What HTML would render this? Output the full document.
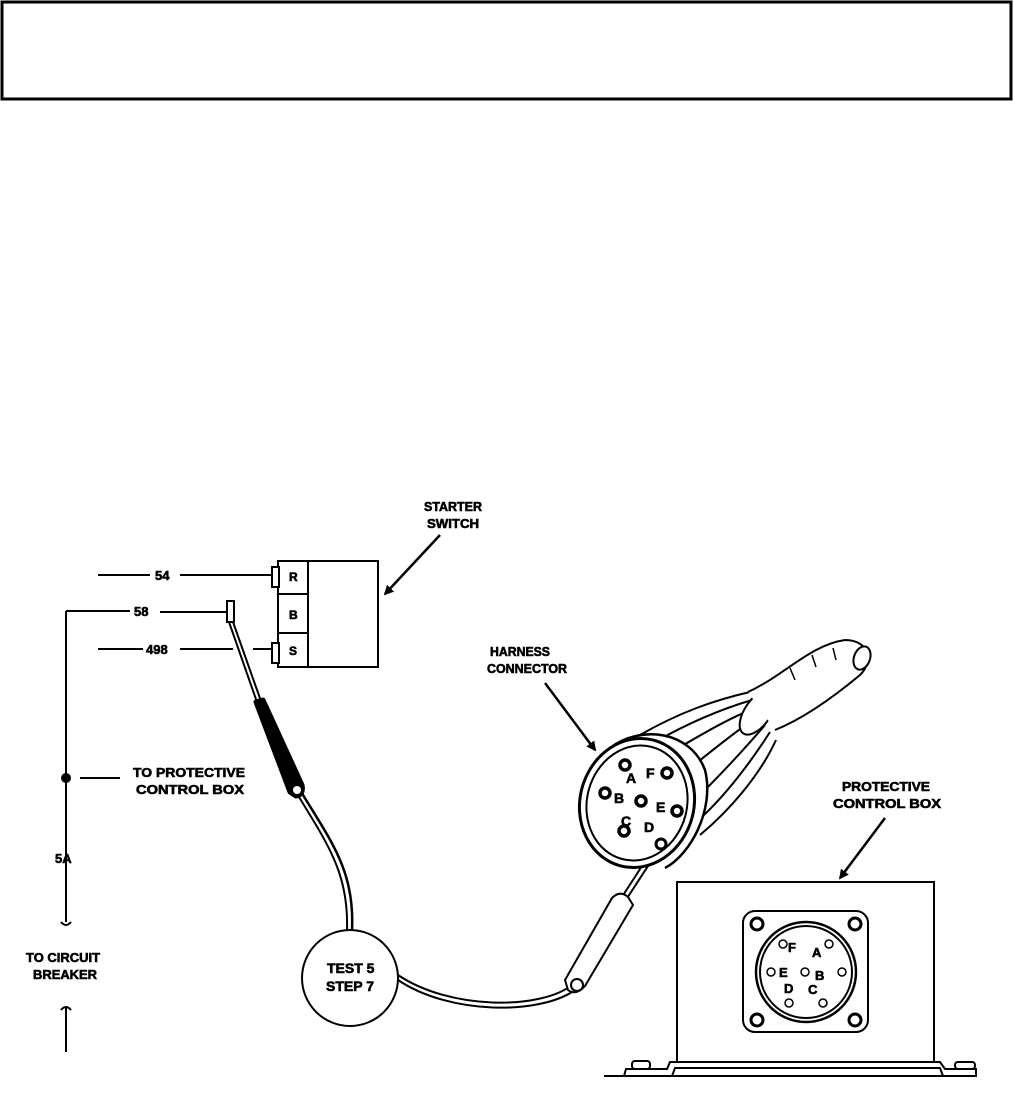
<!DOCTYPE html>
<html><head><style>
html,body{margin:0;padding:0;background:#fff;}
svg{display:block;}
text{font-family:"Liberation Sans",sans-serif;font-weight:bold;fill:#000;stroke:#000;stroke-width:0.6;}
</style></head><body>
<svg width="1014" height="1096" viewBox="0 0 1014 1096" xmlns="http://www.w3.org/2000/svg">
<defs><marker id="ah" markerWidth="10" markerHeight="10" refX="8" refY="5" orient="auto" markerUnits="userSpaceOnUse"><path d="M0,0 L10,5 L0,10 Z" fill="#000" transform="scale(1.4) translate(-3,-1.5)"/></marker></defs>
<rect x="2" y="2" width="1009" height="97" fill="none" stroke="#000" stroke-width="3"/>
<g stroke="#000" stroke-width="2" fill="none">
<rect x="278" y="561" width="100" height="106" fill="#fff"/>
<line x1="308" y1="561" x2="308" y2="667"/>
<line x1="278" y1="594" x2="308" y2="594"/>
<line x1="278" y1="633" x2="308" y2="633"/>
<rect x="272" y="567" width="7" height="20" fill="#fff"/>
<rect x="272" y="643" width="7" height="20" fill="#fff"/>
<line x1="98" y1="575" x2="150" y2="575"/><line x1="180" y1="575" x2="272" y2="575"/>
<line x1="66" y1="611" x2="130" y2="611"/><line x1="160" y1="612" x2="226" y2="612"/>
<rect x="227" y="601" width="7" height="21" fill="#fff"/>
<line x1="98" y1="649" x2="143" y2="649"/><line x1="180" y1="649" x2="233" y2="649"/><line x1="253" y1="649" x2="272" y2="649"/>
<line x1="66" y1="611" x2="66" y2="922"/>
<line x1="80" y1="778" x2="120" y2="778"/>
<path d="M61,922 q5,6 10,0"/>
<path d="M61,1010 q5,-6 10,0"/><line x1="66" y1="1008" x2="66" y2="1052"/>
<line x1="229" y1="622" x2="258" y2="705"/><line x1="233" y1="622" x2="262" y2="704"/>
<path d="M300,790 C330,840 355,870 352,930" stroke-width="2.5"/>
<path d="M296,792 C326,842 349,872 347,930" stroke-width="2"/>
<circle cx="350" cy="978" r="48" fill="#fff"/>
<path d="M398,975 C450,1010 540,1010 572,985" stroke-width="2"/>
<path d="M398,980 C450,1015 540,1015 575,990" stroke-width="2"/>
<line x1="618" y1="903" x2="657" y2="843"/><line x1="622" y1="906" x2="661" y2="846"/>
<path d="M565,980 L612,898 Q620,890 628,897 L633,905 L585,986 Q576,996 568,990 Z" fill="#fff"/>
<circle cx="577" cy="985" r="6" fill="#fff"/>
<!-- harness cable wires -->
<path d="M640,735 C680,712 715,700 750,692"/>
<path d="M655,742 C690,722 725,708 752,700"/>
<path d="M672,752 C705,732 735,715 756,708"/>
<path d="M688,770 C715,748 740,728 760,715"/>
<path d="M700,795 C725,770 748,745 765,725"/>
<path d="M704,815 C730,790 752,760 770,732"/>
<path d="M700,835 C730,810 760,775 776,740"/>
<ellipse cx="758" cy="712" rx="13" ry="26" transform="rotate(35 758 712)" fill="#fff"/>
<path d="M748,692 C785,675 810,645 845,640 C868,640 875,660 860,675 C830,700 800,720 775,730" fill="#fff"/>
<path d="M790,668 l5,12 M812,655 l4,12 M833,648 l3,12" stroke-width="1.5"/>
<ellipse cx="862" cy="658" rx="8" ry="12" transform="rotate(20 862 658)" fill="#fff"/>
<path d="M610,748 C640,725 690,730 705,770 C715,810 690,855 665,868" fill="#fff" stroke-width="2.5"/>
<ellipse cx="637" cy="803" rx="57" ry="65" transform="rotate(15 637 803)" fill="#fff" stroke-width="3"/>
<ellipse cx="637" cy="803" rx="50" ry="58" transform="rotate(15 637 803)"/>
<g stroke-width="3.5"><circle cx="625" cy="765" r="5"/><circle cx="667" cy="773" r="5"/><circle cx="605" cy="793" r="5"/><circle cx="641" cy="801" r="5"/><circle cx="677" cy="811" r="5"/><circle cx="624" cy="831" r="5"/></g>
<circle cx="661" cy="844" r="5" stroke-width="3"/>
<rect x="677" y="882" width="257" height="180" fill="#fff"/>
<rect x="743" y="911" width="125" height="121" rx="12"/>
<circle cx="806" cy="972" r="50" stroke-width="2.5"/><circle cx="806" cy="972" r="46"/>
<g stroke-width="3"><circle cx="757" cy="924" r="6"/><circle cx="855" cy="924" r="6"/><circle cx="757" cy="1020" r="6"/><circle cx="855" cy="1020" r="6"/></g>
<g stroke-width="1.5"><circle cx="783" cy="944" r="4"/><circle cx="829" cy="944" r="4"/><circle cx="771" cy="972" r="4"/><circle cx="805" cy="972" r="4"/><circle cx="842" cy="972" r="4"/><circle cx="789" cy="1003" r="4"/><circle cx="823" cy="1003" r="4"/></g>
<path d="M604,1076 L624,1076 L626,1069 L667,1069 L670,1062 L940,1062 L945,1069 L976,1069 L976,1076 L604,1076"/>
<path d="M672,1076 L675,1068 L940,1068 L943,1076"/>
<rect x="632" y="1061" width="18" height="8" rx="3"/><rect x="955" y="1062" width="20" height="7" rx="3"/>
<line x1="440" y1="535" x2="385" y2="594" marker-end="url(#ah)" stroke-width="2.5"/>
<line x1="545" y1="683" x2="595" y2="750" marker-end="url(#ah)" stroke-width="2.5"/>
<line x1="885" y1="818" x2="840" y2="878" marker-end="url(#ah)" stroke-width="2.5"/>
</g>
<path d="M256,702 L263,700 L302,785 Q304,795 296,796 L290,792 Z" fill="#000" stroke="#000" stroke-width="5" stroke-linejoin="round"/>
<circle cx="297" cy="790" r="5" fill="#fff" stroke="#000" stroke-width="2"/>
<circle cx="66" cy="778" r="5" fill="#000"/>
<g font-size="13">
<text x="155" y="580">54</text>
<text x="134" y="616">58</text>
<text x="146" y="654">498</text>
<text x="289" y="581" font-size="12">R</text>
<text x="289" y="619" font-size="12">B</text>
<text x="289" y="655" font-size="12">S</text>
<text x="133" y="777" textLength="112" lengthAdjust="spacingAndGlyphs">TO PROTECTIVE</text>
<text x="136" y="794" textLength="108" lengthAdjust="spacingAndGlyphs">CONTROL BOX</text>
<text x="55" y="863">5A</text>
<text x="26" y="962" textLength="74" lengthAdjust="spacingAndGlyphs">TO CIRCUIT</text>
<text x="33" y="979" textLength="64" lengthAdjust="spacingAndGlyphs">BREAKER</text>
<text x="424" y="511" textLength="58" lengthAdjust="spacingAndGlyphs">STARTER</text>
<text x="427" y="528" textLength="52" lengthAdjust="spacingAndGlyphs">SWITCH</text>
<text x="490" y="656" textLength="60" lengthAdjust="spacingAndGlyphs">HARNESS</text>
<text x="487" y="673" textLength="80" lengthAdjust="spacingAndGlyphs">CONNECTOR</text>
<text x="842" y="791" textLength="88" lengthAdjust="spacingAndGlyphs">PROTECTIVE</text>
<text x="833" y="808" textLength="108" lengthAdjust="spacingAndGlyphs">CONTROL BOX</text>
<text x="327" y="973" font-size="14">TEST 5</text>
<text x="326" y="991" font-size="14">STEP 7</text>
<text x="626" y="783" font-size="14">A</text><text x="646" y="778" font-size="14">F</text>
<text x="614" y="803" font-size="14">B</text><text x="656" y="812" font-size="14">E</text>
<text x="621" y="826" font-size="14">C</text><text x="644" y="832" font-size="14">D</text>
<text x="788" y="952" font-size="13">F</text><text x="812" y="957" font-size="13">A</text>
<text x="779" y="977" font-size="13">E</text><text x="815" y="980" font-size="13">B</text>
<text x="784" y="993" font-size="13">D</text><text x="808" y="994" font-size="13">C</text>
</g>
</svg>
</body></html>
